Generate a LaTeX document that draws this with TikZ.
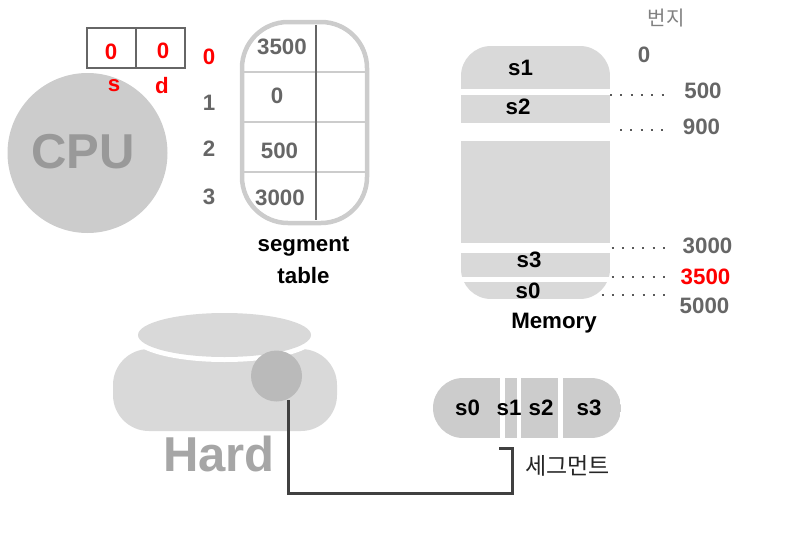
\documentclass[tikz,border=0pt]{standalone}
\usepackage{fontspec}
\setmainfont{Liberation Sans}
\newfontfamily\krfont{Noto Sans CJK KR}
\definecolor{lg}{HTML}{CCCCCC}
\definecolor{mg}{HTML}{D9D9D9}
\definecolor{tg}{HTML}{666666}
\definecolor{rd}{HTML}{FF0000}
\tikzset{
  x=1pt,y=-1pt,
  lbl/.style={inner sep=0pt,font=\fontsize{22.3}{22.3}\selectfont\bfseries},
  numlbl/.style={lbl,text=tg},
  redlbl/.style={lbl,text=rd},
  blacklbl/.style={lbl,text=black},
  dots/.style={draw=black!65,line width=2pt,dash pattern=on 2pt off 8.3pt},
  box/.style={draw=tg,line width=2.6pt},
  band/.style={fill=mg,draw=none},
}
\begin{document}
\begin{tikzpicture}
\useasboundingbox (0,0) rectangle (792,533);
% CPU
\node[circle,fill=lg,minimum size=160pt,inner sep=0pt] (cpu) at (87.5,153) {};
\node[inner sep=0pt,text=black!40,font=\fontsize{49}{49}\selectfont\bfseries] (cpulbl) at (83,152) {CPU};
% s d register
\draw[box] (87,28) rectangle (185,68);
\draw[box] (136,28) -- (136,68);
\node[redlbl] (v0) at (111,51.5) {0};
\node[redlbl] (v1) at (163,50.5) {0};
\node[redlbl] (ls) at (114,86) {s};
\node[redlbl] (ld) at (162,86) {d};
% row numbers
\node[redlbl] (r0) at (209,56.5) {0};
\node[numlbl] (r1) at (209,102.5) {1};
\node[numlbl] (r2) at (209,148.5) {2};
\node[numlbl] (r3) at (209,196.5) {3};
% table
\draw[lg,line width=2.4pt] (242,72) -- (367,72) (242,122) -- (367,122) (242,172) -- (367,172);
\draw[tg,line width=2.6pt] (316,25) -- (316,220);
\draw[lg,line width=4.5pt,rounded corners=46pt] (242,22) rectangle (367,223);
\node[numlbl] (t0) at (282,46.5) {3500};
\node[numlbl] (t1) at (277,95.5) {0};
\node[numlbl] (t2) at (279.5,150.5) {500};
\node[numlbl] (t3) at (280,197.5) {3000};
\node[blacklbl] (st1) at (303.5,247) {segment};
\node[blacklbl] (st2) at (303.5,276) {table};
% memory
\begin{scope}
\clip[rounded corners=30pt] (461,46) rectangle (610,299);
\fill[band] (461,46) rectangle (610,89);
\fill[band] (461,95) rectangle (610,123);
\fill[band] (461,141) rectangle (610,243);
\fill[band] (461,253) rectangle (610,277);
\fill[band] (461,282) rectangle (610,299);
\end{scope}
\node[blacklbl] (m1) at (520.5,68) {s1};
\node[blacklbl] (m2) at (518,107) {s2};
\node[blacklbl] (m3) at (529,260) {s3};
\node[blacklbl] (m0) at (528,290.5) {s0};
\node[blacklbl] (mem) at (554,323.5) {Memory};
% addresses
\node[inner sep=0pt,text=black!50,font=\krfont\fontsize{20}{20}\selectfont] (addr) at (666,18.5) {번지};
\node[numlbl] (a0) at (644,54.5) {0};
\node[numlbl] (a500) at (703,90.5) {500};
\node[numlbl] (a900) at (701.5,126.5) {900};
\node[numlbl] (a3000) at (707.5,245.5) {3000};
\node[redlbl] (a3500) at (705.5,276.5) {3500};
\node[numlbl] (a5000) at (704.5,305.5) {5000};
\coordinate (d1a) at (610,94.5); \coordinate (d1b) at (664,94.5);
\coordinate (d2a) at (620,129.5); \coordinate (d2b) at (664,129.5);
\coordinate (d3a) at (611.5,248); \coordinate (d3b) at (665,248);
\coordinate (d4a) at (611.5,277); \coordinate (d4b) at (665,277);
\coordinate (d5a) at (601.5,295); \coordinate (d5b) at (665,295);
\draw[dots] (d1a) -- (d1b);
\draw[dots] (d2a) -- (d2b);
\draw[dots] (d3a) -- (d3b);
\draw[dots] (d4a) -- (d4b);
\draw[dots] (d5a) -- (d5b);
% hard
\fill[mg,rounded corners=36pt] (113,349) rectangle (337,431);
\fill[white] (224.5,337) ellipse (92 and 25);
\fill[mg] (224.5,335) ellipse (86.5 and 22);
\node[circle,fill=black!27,minimum size=51pt,inner sep=0pt] (disk) at (276.5,376) {};
\node[inner sep=0pt,text=black!35,font=\fontsize{49}{49}\selectfont\bfseries] (hard) at (219,454) {Hard};
% segments
\begin{scope}
\clip[rounded corners=30pt] (433,378) rectangle (621,438);
\fill[lg] (433,378) rectangle (500,438);
\fill[lg] (505,378) rectangle (516.5,438);
\fill[lg] (521,378) rectangle (558,438);
\fill[lg] (563,378) rectangle (621,438);
\end{scope}
\node[blacklbl] (h0) at (467.5,408) {s0};
\node[blacklbl] (h1) at (509,408) {s1};
\node[blacklbl] (h2) at (541,408) {s2};
\node[blacklbl] (h3) at (589,408) {s3};
\node[inner sep=0pt,font=\krfont\fontsize{23}{23}\selectfont,text=black!85] (seg) at (567.5,466) {세그먼트};
\coordinate (w0) at (288,400);
\coordinate (w3) at (499,448);
\draw[black!75,line width=3pt,line join=miter] (w0) |- (512,493) |- (w3);
\end{tikzpicture}
\end{document}
